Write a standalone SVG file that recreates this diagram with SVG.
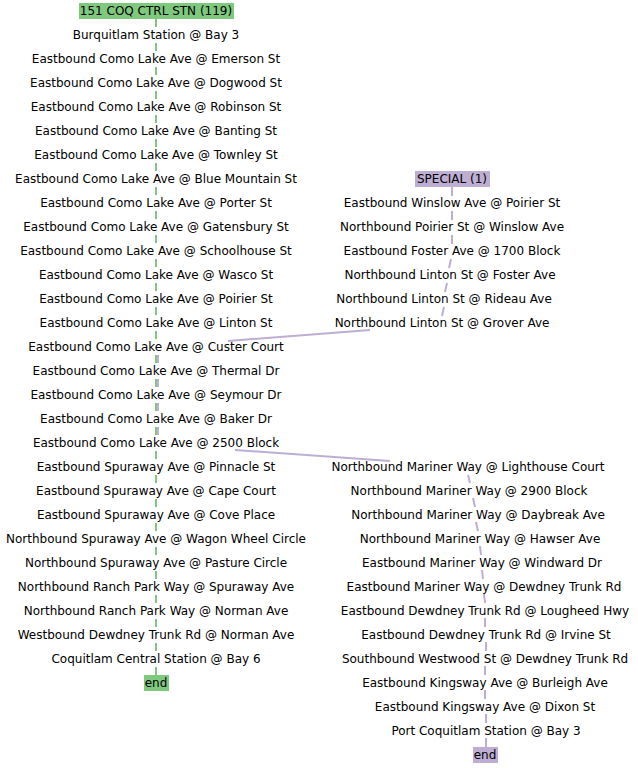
<svg xmlns="http://www.w3.org/2000/svg" width="638" height="768" viewBox="0 0 638 768">
<style>
text{font-family:"DejaVu Sans",sans-serif;font-size:12px;fill:#000;text-anchor:middle}
.g{stroke:#7fc97f;stroke-width:2;fill:none}
.p{stroke:#beaed4;stroke-width:2;fill:none}
.gb{fill:#7fc97f}
.pb{fill:#beaed4}
</style>
<rect width="638" height="768" fill="#fff"/>
<g id="connectors">
<path class="g" d="M156 19V27M156 43V51M156 67V75M156 91V99M156 115V123M156 139V147M156 163V171M156 187V195M156 211V219M156 235V243M156 259V267M156 283V291M156 307V315M156 331V339M156 355V363M156 379V387M156 403V411M156 427V435M156 451V459M156 475V483M156 499V507M156 523V531M156 547V555M156 571V579M156 595V603M156 619V627M156 643V651M156 667V675"/>
<path class="p" d="M452 187V196M452 211V220M452 235V244M451 259L449 268M447 283L445 292M444 307L442 316M370 330L228 341M158 355V363M158 379V387M158 403V411M158 427V435M235 450L390 461M468 475L470 483M473 498L475 507M476 522L478 531M480 546L481 555M482 570L483 579M484 594L485 603M485 618V627M486 642V651M485 666V675M485 690V699M486 714V723M486 738V747"/>
</g>
<g id="n0"><rect class="gb" x="79" y="3" width="155" height="16"/><text x="156" y="15">151 COQ CTRL STN (119)</text></g>
<g id="n1"><text x="156" y="39">Burquitlam Station @ Bay 3</text></g>
<g id="n2"><text x="156" y="63">Eastbound Como Lake Ave @ Emerson St</text></g>
<g id="n3"><text x="156" y="87">Eastbound Como Lake Ave @ Dogwood St</text></g>
<g id="n4"><text x="156" y="111">Eastbound Como Lake Ave @ Robinson St</text></g>
<g id="n5"><text x="156" y="135">Eastbound Como Lake Ave @ Banting St</text></g>
<g id="n6"><text x="156" y="159">Eastbound Como Lake Ave @ Townley St</text></g>
<g id="n7"><text x="156" y="183">Eastbound Como Lake Ave @ Blue Mountain St</text></g>
<g id="n8"><text x="156" y="207">Eastbound Como Lake Ave @ Porter St</text></g>
<g id="n9"><text x="156" y="231">Eastbound Como Lake Ave @ Gatensbury St</text></g>
<g id="n10"><text x="156" y="255">Eastbound Como Lake Ave @ Schoolhouse St</text></g>
<g id="n11"><text x="156" y="279">Eastbound Como Lake Ave @ Wasco St</text></g>
<g id="n12"><text x="156" y="303">Eastbound Como Lake Ave @ Poirier St</text></g>
<g id="n13"><text x="156" y="327">Eastbound Como Lake Ave @ Linton St</text></g>
<g id="n14"><text x="156" y="351">Eastbound Como Lake Ave @ Custer Court</text></g>
<g id="n15"><text x="156" y="375">Eastbound Como Lake Ave @ Thermal Dr</text></g>
<g id="n16"><text x="156" y="399">Eastbound Como Lake Ave @ Seymour Dr</text></g>
<g id="n17"><text x="156" y="423">Eastbound Como Lake Ave @ Baker Dr</text></g>
<g id="n18"><text x="156" y="447">Eastbound Como Lake Ave @ 2500 Block</text></g>
<g id="n19"><text x="156" y="471">Eastbound Spuraway Ave @ Pinnacle St</text></g>
<g id="n20"><text x="156" y="495">Eastbound Spuraway Ave @ Cape Court</text></g>
<g id="n21"><text x="156" y="519">Eastbound Spuraway Ave @ Cove Place</text></g>
<g id="n22"><text x="156" y="543">Northbound Spuraway Ave @ Wagon Wheel Circle</text></g>
<g id="n23"><text x="156" y="567">Northbound Spuraway Ave @ Pasture Circle</text></g>
<g id="n24"><text x="156" y="591">Northbound Ranch Park Way @ Spuraway Ave</text></g>
<g id="n25"><text x="156" y="615">Northbound Ranch Park Way @ Norman Ave</text></g>
<g id="n26"><text x="156" y="639">Westbound Dewdney Trunk Rd @ Norman Ave</text></g>
<g id="n27"><text x="156" y="663">Coquitlam Central Station @ Bay 6</text></g>
<g id="n28"><rect class="gb" x="144" y="675" width="25" height="16"/><text x="156" y="687">end</text></g>
<g id="p0"><rect class="pb" x="415" y="171" width="75" height="16"/><text x="452" y="183">SPECIAL (1)</text></g>
<g id="p1"><text x="452" y="207">Eastbound Winslow Ave @ Poirier St</text></g>
<g id="p2"><text x="452" y="231">Northbound Poirier St @ Winslow Ave</text></g>
<g id="p3"><text x="452" y="255">Eastbound Foster Ave @ 1700 Block</text></g>
<g id="p4"><text x="450" y="279">Northbound Linton St @ Foster Ave</text></g>
<g id="p5"><text x="444" y="303">Northbound Linton St @ Rideau Ave</text></g>
<g id="p6"><text x="442" y="327">Northbound Linton St @ Grover Ave</text></g>
<g id="p7"><text x="468" y="471">Northbound Mariner Way @ Lighthouse Court</text></g>
<g id="p8"><text x="469" y="495">Northbound Mariner Way @ 2900 Block</text></g>
<g id="p9"><text x="478" y="519">Northbound Mariner Way @ Daybreak Ave</text></g>
<g id="p10"><text x="480" y="543">Northbound Mariner Way @ Hawser Ave</text></g>
<g id="p11"><text x="482" y="567">Eastbound Mariner Way @ Windward Dr</text></g>
<g id="p12"><text x="484" y="591">Eastbound Mariner Way @ Dewdney Trunk Rd</text></g>
<g id="p13"><text x="485" y="615">Eastbound Dewdney Trunk Rd @ Lougheed Hwy</text></g>
<g id="p14"><text x="486" y="639">Eastbound Dewdney Trunk Rd @ Irvine St</text></g>
<g id="p15"><text x="485" y="663">Southbound Westwood St @ Dewdney Trunk Rd</text></g>
<g id="p16"><text x="485" y="687">Eastbound Kingsway Ave @ Burleigh Ave</text></g>
<g id="p17"><text x="485" y="711">Eastbound Kingsway Ave @ Dixon St</text></g>
<g id="p18"><text x="486" y="735">Port Coquitlam Station @ Bay 3</text></g>
<g id="p19"><rect class="pb" x="473" y="747" width="25" height="16"/><text x="485" y="759">end</text></g>
</svg>
